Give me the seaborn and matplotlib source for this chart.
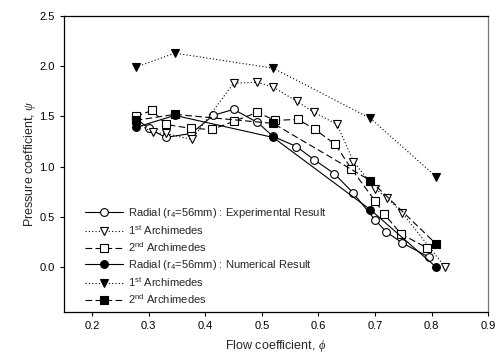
import matplotlib
matplotlib.use("Agg")
import matplotlib.pyplot as plt
import seaborn as sns
import pandas as pd

# Experimental results
exp_radial_x = [0.277, 0.300, 0.330, 0.375, 0.414, 0.450, 0.492, 0.520, 0.561, 0.592, 0.628, 0.661, 0.700, 0.720, 0.748, 0.795]
exp_radial_y = [1.48, 1.38, 1.29, 1.33, 1.51, 1.57, 1.44, 1.30, 1.20, 1.07, 0.93, 0.74, 0.47, 0.35, 0.24, 0.10]

exp_arch1_x = [0.277, 0.307, 0.330, 0.376, 0.450, 0.492, 0.520, 0.562, 0.592, 0.633, 0.662, 0.700, 0.721, 0.748, 0.824]
exp_arch1_y = [1.44, 1.34, 1.33, 1.27, 1.83, 1.84, 1.79, 1.65, 1.54, 1.42, 1.05, 0.78, 0.69, 0.54, 0.00]

exp_arch2_x = [0.277, 0.306, 0.330, 0.375, 0.412, 0.450, 0.492, 0.523, 0.564, 0.594, 0.630, 0.658, 0.700, 0.716, 0.746, 0.792]
exp_arch2_y = [1.50, 1.56, 1.42, 1.38, 1.37, 1.45, 1.54, 1.46, 1.47, 1.37, 1.22, 0.98, 0.66, 0.53, 0.33, 0.19]

# Numerical results
num_x = [0.277, 0.346, 0.520, 0.692, 0.808]
num_radial_y = [1.39, 1.51, 1.29, 0.57, 0.00]
num_arch1_y = [1.99, 2.13, 1.98, 1.48, 0.90]
num_arch2_y = [1.46, 1.52, 1.43, 0.86, 0.23]

labels = [
    r"Radial (r$_4$=56mm) : Experimental Result",
    r"1$^{\mathrm{st}}$ Archimedes",
    r"2$^{\mathrm{nd}}$ Archimedes",
    r"Radial (r$_4$=56mm) : Numerical Result",
    r"1$^{\mathrm{st}}$ Archimedes",
    r"2$^{\mathrm{nd}}$ Archimedes",
]

xticks = [0.2, 0.3, 0.4, 0.5, 0.6, 0.7, 0.8, 0.9]
yticks = [0.0, 0.5, 1.0, 1.5, 2.0, 2.5]

sns.set_style("ticks")
plt.rcParams['font.family'] = ['Liberation Sans', 'DejaVu Sans']
plt.rcParams['mathtext.fontset'] = 'custom'
plt.rcParams['mathtext.rm'] = 'Liberation Sans'
plt.rcParams['mathtext.it'] = 'Liberation Serif:italic'

fig = plt.figure(figsize=(4.96, 3.63), dpi=100)
ax = fig.add_axes([0.129, 0.140, 0.855, 0.816])

series = [
    (exp_radial_x, exp_radial_y, 'o', 'white', '-', labels[0]),
    (exp_arch1_x, exp_arch1_y, 'v', 'white', (0, (1, 2)), labels[1]),
    (exp_arch2_x, exp_arch2_y, 's', 'white', (0, (6, 3)), labels[2]),
    (num_x, num_radial_y, 'o', 'black', '-', labels[3]),
    (num_x, num_arch1_y, 'v', 'black', (0, (1, 2)), labels[4]),
    (num_x, num_arch2_y, 's', 'black', (0, (6, 3)), labels[5]),
]

for xs, ys, mk, fc, ls, lab in series:
    df = pd.DataFrame({"x": xs, "y": ys})
    sns.lineplot(data=df, x="x", y="y", ax=ax, sort=False, estimator=None,
                 color='black', linewidth=0.8, linestyle=ls, marker=mk,
                 markersize=5.2 if mk == 's' else 5.6, markerfacecolor=fc,
                 markeredgecolor='black', markeredgewidth=0.8, label=lab)

ax.set_xlim(0.15, 0.9)
ax.set_ylim(-0.45, 2.5)
ax.set_xticks(xticks)
ax.set_yticks(yticks)
ax.set_xticklabels([f"{t:.1f}" for t in xticks])
ax.set_yticklabels([f"{t:.1f}" for t in yticks])
ax.tick_params(axis='both', labelsize=8, length=3, width=0.8, direction='out', colors='black')
for s in ax.spines.values():
    s.set_linewidth(0.9)
    s.set_color('black')
ax.spines['right'].set_color('#777777')

ax.set_xlabel(r"Flow coefficient, $\it{\phi}$", fontsize=9, labelpad=5)
ax.set_ylabel(r"Pressure coefficient, $\it{\psi}$", fontsize=9, labelpad=1)

ax.legend(loc='lower left', bbox_to_anchor=(0.035, 0.0), frameon=False, fontsize=8,
          handlelength=3.4, handletextpad=0.4, labelspacing=0.35, borderaxespad=0.2)

fig.savefig("out.png", dpi=100)
